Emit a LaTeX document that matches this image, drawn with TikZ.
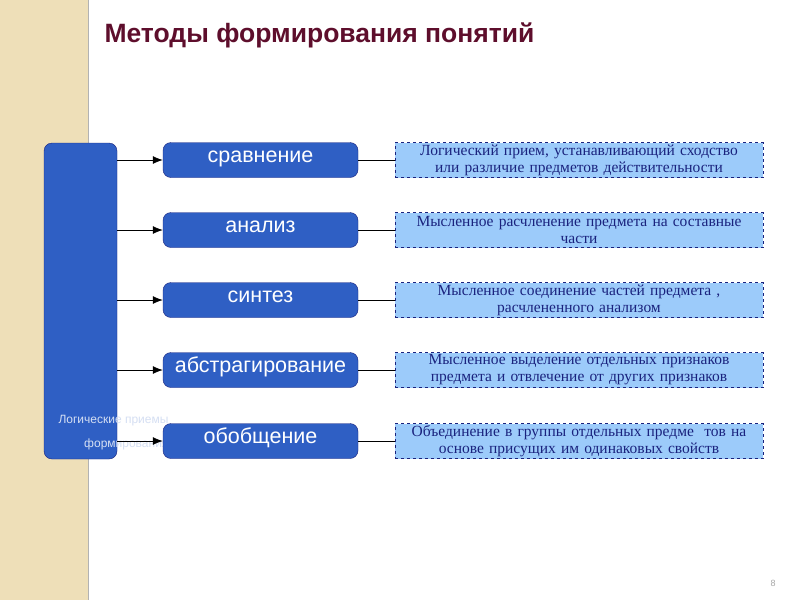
\documentclass[tikz,border=0pt]{standalone}
\usepackage{fontspec}
\setmainfont{Liberation Serif}
\setsansfont{Liberation Sans}
\usetikzlibrary{positioning,arrows.meta}
\definecolor{slideblue}{HTML}{2F5FC4}
\definecolor{lightblue}{HTML}{9CCBFA}
\definecolor{navytext}{HTML}{1A237E}
\definecolor{titlered}{HTML}{5E0E2C}
\definecolor{beige}{HTML}{EEDFB8}
\tikzset{
    method/.style={draw=navytext, fill=slideblue, rounded corners=8pt, minimum width=195pt, minimum height=35pt, text=white, text height=1.1ex, text depth=0pt, font=\sffamily\fontsize{21.5}{24}\selectfont},
    desc/.style={draw=navytext, dashed, fill=lightblue, minimum width=368pt, minimum height=35pt, text width=366pt, align=center, text=navytext, font=\fontsize{15.5}{17}\selectfont, inner sep=0pt},
}
\begin{document}
\begin{tikzpicture}[x=1pt, y=-1pt]
    \useasboundingbox (0,0) rectangle (800,600);
    \fill[white] (0,0) rectangle (800,600);
    \fill[beige] (0,0) rectangle (88,600);
    \draw[gray!60, thick] (88,0)--(88,600);
    \node[font=\sffamily\bfseries\fontsize{26.5}{30}\selectfont, text=titlered, anchor=west] (title) at (101,35) {Методы формирования понятий};
    \node[draw=navytext, fill=slideblue, rounded corners=8pt, minimum width=73pt, minimum height=316pt] (main) at (80.5,301) {};
    \node[text=white!80!slideblue, font=\sffamily\fontsize{12}{24}\selectfont, align=right, anchor=south east] (mainlabel) at (172,454) {Логические приемы\\формирования};
    \foreach \name/\txt/\dsc/\y in {
        srav/сравнение/{Логический прием, устанавливающий сходство\\или различие предметов действительности}/160,
        anal/анализ/{Мысленное расчленение предмета на составные\\части}/230,
        sint/синтез/{Мысленное соединение частей предмета ,\\расчлененного анализом}/300,
        abst/абстрагирование/{Мысленное выделение отдельных признаков\\предмета и отвлечение от других признаков}/370,
        obob/обобщение/{Объединение в группы отдельных предме\ \ тов на\\основе присущих им одинаковых свойств}/441}{
        \node[method] (\name) at (260.5,\y) {\txt};
        \node[desc] (\name d) at (579,\y) {\dsc};
        \draw[-{Latex[length=10pt,width=8pt]}, thick] (main.east|-\name) -- (\name.west);
        \draw[thick] (\name.east) -- (\name d.west);
    }
    \node[text=gray!70, font=\sffamily\small] (page) at (773,583) {8};
\end{tikzpicture}
\end{document}
